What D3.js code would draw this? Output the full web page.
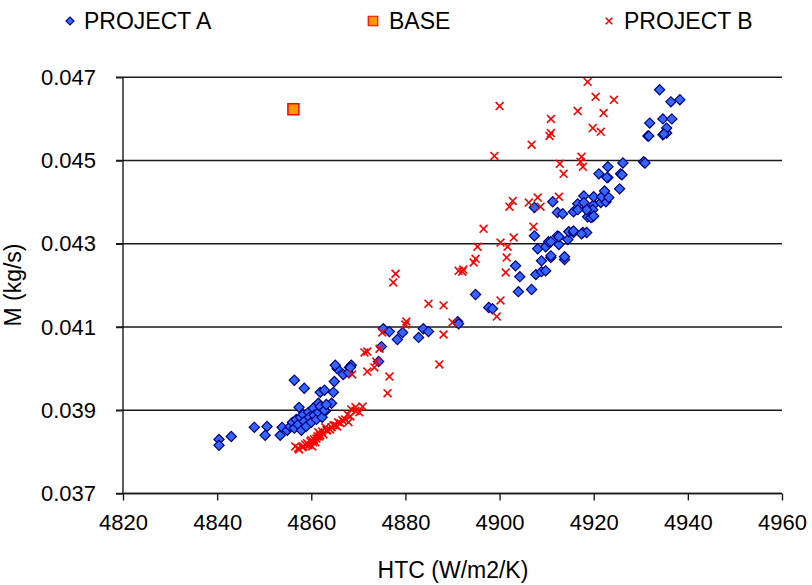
<!DOCTYPE html>
<html>
<head>
<meta charset="utf-8">
<script src="https://cdn.jsdelivr.net/npm/d3@7"></script>
<style>
  body { margin: 0; background: #fff; }
  text { font-family: "Liberation Sans", Arial, sans-serif; }
</style>
</head>
<body>
<script>
// scatter of M vs HTC for two projects plus the base case

var projectA = [
  [4840.4,0.03830],[4840.4,0.03816],[4843.0,0.03837],[4847.9,0.03859],[4850.6,0.03861],[4850.2,0.03840],
  [4853.4,0.03840],[4853.8,0.03859],[4856.4,0.03972],[4858.5,0.03953],[4857.4,0.03907],[4860.0,0.03890],
  [4861.5,0.03917],[4863.0,0.03898],[4864.3,0.03917],[4864.7,0.03943],[4861.9,0.03943],[4862.8,0.03948],
  [4864.9,0.03969],[4865.5,0.04000],[4865.1,0.04008],[4866.8,0.03986],[4868.1,0.04003],[4868.5,0.04008],
  [4854.9,0.03852],[4855.5,0.03861],[4856.0,0.03871],[4856.4,0.03857],[4856.8,0.03878],[4857.2,0.03866],
  [4857.7,0.03883],[4857.9,0.03852],[4858.3,0.03890],[4858.5,0.03873],[4858.9,0.03861],[4859.4,0.03895],
  [4859.6,0.03883],[4860.0,0.03871],[4860.4,0.03905],[4860.6,0.03888],[4861.1,0.03878],[4861.5,0.03895],
  [4861.9,0.03909],[4862.3,0.03883],[4862.8,0.03900],[4863.2,0.03914],[4867.9,0.03991],[4868.3,0.04003],
  [4874.3,0.04017],[4874.9,0.04053],[4875.3,0.04096],[4876.6,0.04089],[4878.3,0.04070],[4879.4,0.04087],
  [4882.8,0.04075],[4883.8,0.04096],[4884.9,0.04089],[4891.1,0.04113],[4891.3,0.04108],[4894.9,0.04178],
  [4897.7,0.04147],[4898.5,0.04144],[4903.4,0.04247],[4904.3,0.04221],[4904.0,0.04185],[4906.8,0.04190],
  [4907.7,0.04226],[4908.9,0.04233],[4909.8,0.04235],[4908.9,0.04259],[4910.9,0.04267],[4913.8,0.04262],
  [4908.1,0.04288],[4907.4,0.04319],[4909.8,0.04293],[4910.4,0.04305],[4912.3,0.04319],[4912.6,0.04298],
  [4914.5,0.04310],[4914.7,0.04329],[4915.7,0.04327],[4917.7,0.04327],[4918.5,0.04327],[4907.4,0.04387],
  [4911.3,0.04401],[4912.3,0.04375],[4913.4,0.04372],[4915.7,0.04377],[4916.6,0.04396],[4918.3,0.04384],
  [4918.7,0.04365],[4919.8,0.04365],[4920.0,0.04394],[4921.5,0.04399],[4922.6,0.04401],[4917.9,0.04415],
  [4917.9,0.04399],[4920.0,0.04413],[4921.7,0.04413],[4923.2,0.04411],[4922.3,0.04427],[4925.5,0.04432],
  [4925.7,0.04468],[4923.0,0.04459],[4921.1,0.04468],[4923.0,0.04485],[4926.2,0.04494],[4930.6,0.04497],
  [4930.9,0.04494],[4931.5,0.04559],[4934.7,0.04562],[4935.5,0.04566],[4919.8,0.04382],[4918.5,0.04382],
  [4916.6,0.04382],[4919.4,0.04363],[4920.0,0.04367],[4915.7,0.04331],[4917.4,0.04324],[4912.6,0.04317],
  [4910.9,0.04305],[4910.9,0.04271],[4913.8,0.04269],[4934.0,0.04670],[4936.4,0.04641],[4938.3,0.04646],
  [4931.9,0.04590],[4931.7,0.04559],[4934.7,0.04600],[4936.6,0.04600],[4935.5,0.04578],[4934.9,0.04564],
  [4926.0,0.04466],[4922.8,0.04459]
];

var base = [[4856.2,0.04623]];

var projectB = [
  [4918.7,0.04689],[4920.4,0.04653],[4924.3,0.04646],[4900.0,0.04631],[4916.6,0.04619],[4922.1,0.04614],
  [4910.9,0.04600],[4919.8,0.04578],[4921.5,0.04569],[4910.9,0.04566],[4910.6,0.04559],[4906.8,0.04538],
  [4898.9,0.04511],[4917.4,0.04509],[4917.2,0.04497],[4917.7,0.04485],[4912.8,0.04492],[4913.6,0.04468],
  [4912.6,0.04413],[4908.1,0.04411],[4906.2,0.04399],[4902.8,0.04403],[4902.1,0.04389],[4908.7,0.04389],
  [4907.2,0.04341],[4896.6,0.04336],[4903.0,0.04315],[4900.2,0.04303],[4901.7,0.04293],[4895.3,0.04293],
  [4894.9,0.04264],[4894.5,0.04255],[4892.3,0.04238],[4892.1,0.04233],[4901.5,0.04267],[4901.3,0.04231],
  [4891.3,0.04235],[4884.9,0.04156],[4888.1,0.04152],[4900.2,0.04164],[4899.4,0.04125],[4890.0,0.04111],
  [4888.1,0.04082],[4877.9,0.04228],[4877.4,0.04207],[4880.2,0.04113],[4880.0,0.04106],[4875.1,0.04087],
  [4874.5,0.04048],[4871.3,0.04039],[4871.9,0.04041],[4873.8,0.04017],[4873.4,0.04003],[4871.9,0.03993],
  [4868.7,0.03986],[4876.6,0.03981],[4876.2,0.03941],[4887.2,0.04010],[4870.9,0.03909],[4869.4,0.03907],
  [4868.5,0.03902],[4867.7,0.03890],[4867.9,0.03871],[4865.7,0.03871],[4865.5,0.03861],[4864.7,0.03864],
  [4864.0,0.03854],[4863.0,0.03859],[4862.3,0.03849],[4861.5,0.03847],[4861.3,0.03837],[4860.6,0.03830],
  [4859.8,0.03825],[4859.1,0.03821],[4858.3,0.03813],[4857.2,0.03809],[4856.6,0.03813],[4857.4,0.03806],
  [4860.2,0.03813],[4860.9,0.03823],[4861.7,0.03837],[4862.6,0.03842],[4863.4,0.03852],[4865.1,0.03864],
  [4866.6,0.03876],[4868.3,0.03885],[4870.2,0.03895],[4860.4,0.03823],[4859.4,0.03816],[4858.1,0.03811],
  [4858.7,0.03818],[4860.0,0.03828],[4861.1,0.03832],[4861.9,0.03840],[4863.2,0.03852],[4864.3,0.03859],
  [4866.2,0.03869],[4867.2,0.03878],[4869.4,0.03898]
];

var xTicks = [4820, 4840, 4860, 4880, 4900, 4920, 4940, 4960];
var yTicks = [0.037, 0.039, 0.041, 0.043, 0.045, 0.047];
var legendNames = ["PROJECT A", "BASE", "PROJECT B"];

var width = 812, height = 585;

var svg = d3.select("body").append("svg")
  .attr("width", width)
  .attr("height", height);

var x = d3.scaleLinear().domain([4820, 4960]).range([123, 782]);
var y = d3.scaleLinear().domain([0.037, 0.047]).range([493.5, 77.3]);

// horizontal grid lines
svg.append("g")
  .selectAll("line")
  .data(yTicks)
  .enter().append("line")
  .attr("x1", 116).attr("x2", 782)
  .attr("y1", function (d) { return y(d); })
  .attr("y2", function (d) { return y(d); })
  .attr("stroke", "#1a1a1a")
  .attr("stroke-width", 1.4);

var yAxis = svg.append("g")
  .attr("transform", "translate(123,0)")
  .call(d3.axisLeft(y).tickValues(yTicks).tickFormat(d3.format(".3f")).tickSize(7).tickPadding(20));

var xAxis = svg.append("g")
  .attr("transform", "translate(0,493.5)")
  .call(d3.axisBottom(x).tickValues(xTicks).tickFormat(d3.format("d")).tickSize(7).tickPadding(14));

[xAxis, yAxis].forEach(function (a) {
  a.select(".domain").attr("stroke", "#1a1a1a").attr("stroke-width", 1.4);
  a.selectAll(".tick line").attr("stroke", "#1a1a1a").attr("stroke-width", 1.4);
  a.selectAll(".tick text")
    .attr("fill", "#000")
    .style("font-size", "22px")
    .style("font-family", "'Liberation Sans', Arial, sans-serif");
});
xAxis.select(".domain").attr("d", "M123,0H782");
yAxis.select(".domain").attr("d", "M0,77.3V493.5");

// axis titles
svg.append("text")
  .attr("x", 453).attr("y", 578)
  .attr("text-anchor", "middle")
  .style("font-size", "23px")
  .text("HTC (W/m2/K)");

svg.append("text")
  .attr("transform", "translate(21,285) rotate(-90)")
  .attr("text-anchor", "middle")
  .style("font-size", "23px")
  .text("M (kg/s)");

var diamond = d3.symbol().type(d3.symbolSquare).size(52);
var cross = d3.symbol().type(d3.symbolTimes || d3.symbolCross).size(42);
var square = d3.symbol().type(d3.symbolSquare).size(121);

svg.append("g").selectAll("path")
  .data(projectA)
  .enter().append("path")
  .attr("d", diamond)
  .attr("transform", function (d) { return "translate(" + x(d[0]) + "," + y(d[1]) + ") rotate(45)"; })
  .attr("fill", "#3366ff")
  .attr("stroke", "#000080")
  .attr("stroke-width", 1.2);

svg.append("g").selectAll("path")
  .data(base)
  .enter().append("path")
  .attr("d", square)
  .attr("transform", function (d) { return "translate(" + x(d[0]) + "," + y(d[1]) + ")"; })
  .attr("fill", "#ff9900")
  .attr("stroke", "#ff0000")
  .attr("stroke-width", 1.5);

svg.append("g").selectAll("path")
  .data(projectB)
  .enter().append("path")
  .attr("d", cross)
  .attr("transform", function (d) { return "translate(" + x(d[0]) + "," + y(d[1]) + ")"; })
  .attr("fill", "none")
  .attr("stroke", "#ff0000")
  .attr("stroke-width", 1.6);

// legend
var legendX = [70, 373, 609];
var legend = svg.append("g");
var items = legend.selectAll("g")
  .data(legendNames)
  .enter().append("g")
  .attr("transform", function (d, i) { return "translate(" + legendX[i] + ",21)"; });

items.append("path")
  .attr("d", function (d, i) {
    if (i === 0) return d3.symbol().type(d3.symbolSquare).size(32)();
    if (i === 1) return d3.symbol().type(d3.symbolSquare).size(90)();
    return d3.symbol().type(d3.symbolTimes || d3.symbolCross).size(30)();
  })
  .attr("transform", function (d, i) { return i === 0 ? "rotate(45)" : null; })
  .attr("fill", function (d, i) { return ["#3366ff", "#ff9900", "none"][i]; })
  .attr("stroke", function (d, i) { return ["#000080", "#ff0000", "#ff0000"][i]; })
  .attr("stroke-width", function (d, i) { return i === 2 ? 1.6 : 1.2; });

items.append("text")
  .attr("x", function (d, i) { return [14, 16, 15][i]; })
  .attr("y", 8)
  .style("font-size", "23px")
  .text(function (d) { return d; });
</script>
</body>
</html>
